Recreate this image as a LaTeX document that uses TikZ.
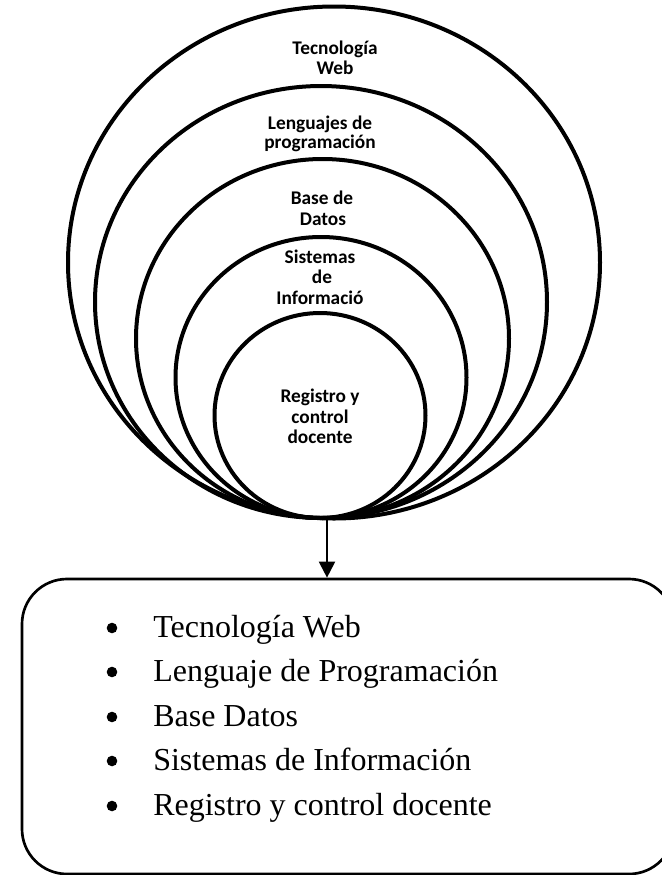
\documentclass[tikz,border=0pt]{standalone}
\usepackage{fontspec}
\setmainfont{Liberation Serif}
\newfontfamily\labfont{Carlito}
\usetikzlibrary{shapes.geometric,arrows.meta}
\begin{document}
\begin{tikzpicture}[x=0.75pt,y=-0.75pt,
  ring/.style={draw, ellipse, line width=3pt, inner sep=0pt, outer sep=0pt},
  ringlabel/.style={font=\labfont\bfseries\fontsize{14.5pt}{15pt}\selectfont, anchor=base, inner sep=0pt},
  item/.style={font=\fontsize{24pt}{28pt}\selectfont, anchor=base west, inner sep=0pt},
  listbox/.style={draw, rectangle, rounded corners=33.75pt, line width=2pt, inner sep=0pt,
    minimum width=489pt, minimum height=221.25pt},
  flow/.style={line width=1.5pt, -{Triangle[width=12pt,length=12pt]}}
]
\useasboundingbox (0,0) rectangle (661,875);

% nested rings, all touching at the bottom
\node[ring, minimum width=399pt,    minimum height=384pt]    (c1) at (334,262.5) {};
\node[ring, minimum width=339pt,    minimum height=324pt]    (c2) at (321,302) {};
\node[ring, minimum width=279.75pt, minimum height=269.25pt] (c3) at (322.5,338.5) {};
\node[ring, minimum width=218.25pt, minimum height=210.75pt] (c4) at (321,377.5) {};
\node[ring, minimum width=158.25pt, minimum height=153.75pt] (c5) at (320,415.5) {};

% ring labels
\node[ringlabel] (t1a) at (335,54) {Tecnología};
\node[ringlabel] (t1b) at (335,74) {Web};
\node[ringlabel] (t2a) at (320,129) {Lenguajes de};
\node[ringlabel] (t2b) at (320,148) {programación};
\node[ringlabel] (t3a) at (322,204) {Base de};
\node[ringlabel] (t3b) at (323,225) {Datos};
\node[ringlabel] (t4a) at (320,263) {Sistemas};
\node[ringlabel] (t4b) at (322,283) {de};
\node[ringlabel] (t4c) at (320,304) {Informació};
\node[ringlabel] (t5a) at (320,402) {Registro y};
\node[ringlabel] (t5b) at (320,423) {control};
\node[ringlabel] (t5c) at (320,443) {docente};

% summary box (its right side runs past the page edge)
\node[listbox] (box) at (348,726.5) {};

% arrow from the rings to the box
\coordinate (base) at (327,518);
\draw[flow] (base) -- (base |- box.north);

% bullet list
\foreach \y/\name/\txt in {637/l1/Tecnología Web,
                          681/l2/Lenguaje de Programación,
                          726/l3/Base Datos,
                          770/l4/Sistemas de Información,
                          815/l5/Registro y control docente}{
  \fill (112,\y-9) circle[radius=5.3];
  \node[item] (\name) at (153,\y) {\txt};
}
\end{tikzpicture}
\end{document}
